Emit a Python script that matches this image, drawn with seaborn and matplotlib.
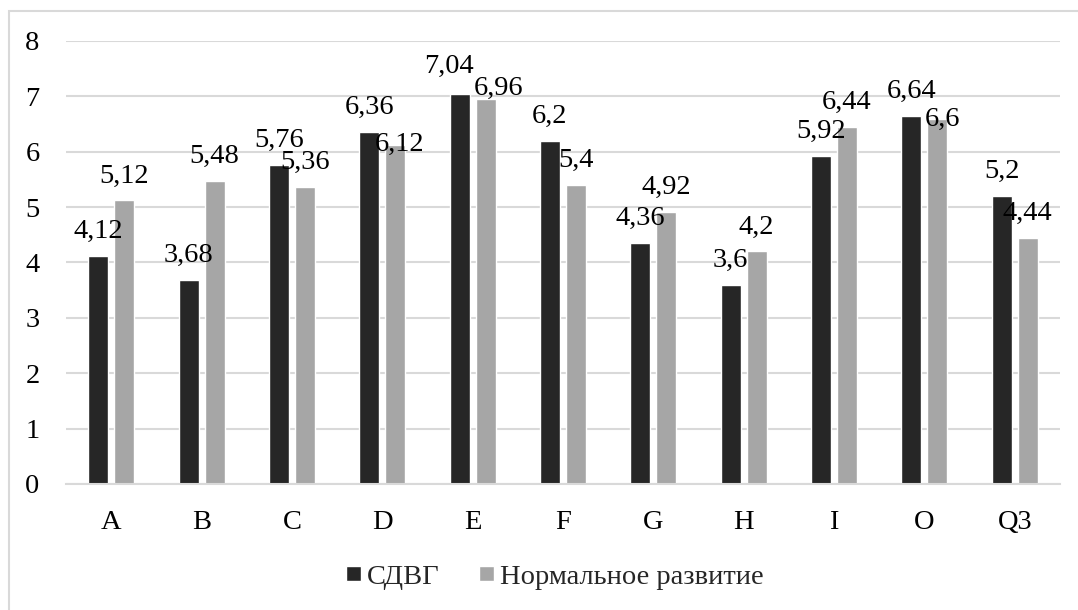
import pandas as pd
import matplotlib
matplotlib.use("Agg")
import matplotlib.pyplot as plt
import seaborn as sns
from matplotlib.patches import Rectangle

# ------------------------------
# Data
# ------------------------------
categories = ["A", "B", "C", "D", "E", "F", "G", "H", "I", "O", "Q3"]
adhd = [4.12, 3.68, 5.76, 6.36, 7.04, 6.2, 4.36, 3.6, 5.92, 6.64, 5.2]
normal = [5.12, 5.48, 5.36, 6.12, 6.96, 5.4, 4.92, 4.2, 6.44, 6.6, 4.44]
series_names = ["СДВГ", "Нормальное развитие"]
colors = ["#262626", "#A6A6A6"]

df = pd.DataFrame({
    "factor": categories * 2,
    "group": [series_names[0]] * len(categories) + [series_names[1]] * len(categories),
    "value": adhd + normal,
})

# label nudges (pixels) where the original chart moved labels to dodge overlaps
label_nudge = {
    (0, "E"): (-11, 3),
    (1, "E"): (13, -14),
    (1, "D"): (4, -24),
    (1, "O"): (5, -25),
}

# ------------------------------
# Figure
# ------------------------------
sns.set_theme(style="white")
plt.rcParams["font.family"] = ["Liberation Serif", "DejaVu Serif"]
FS = 20.5

fig = plt.figure(figsize=(10.78, 6.10), dpi=100)
ax = fig.add_axes([0.0612, 0.2066, 0.9221, 0.7262])

sns.barplot(
    data=df, x="factor", y="value", hue="group",
    palette=colors, width=0.575, gap=0.23,
    ax=ax, legend=True, saturation=1,
)

ax.set_ylim(0, 8)
ax.set_yticks(range(0, 9))
ax.yaxis.grid(True, color="#D9D9D9", linewidth=1.5)
ax.set_axisbelow(True)
for s in ["left", "right", "top"]:
    ax.spines[s].set_visible(False)
ax.spines["bottom"].set_color("#D9D9D9")
ax.spines["bottom"].set_linewidth(1.5)
ax.tick_params(axis="both", length=0, labelsize=FS, colors="black")
ax.tick_params(axis="y", pad=19)
ax.tick_params(axis="x", pad=19)
ax.set_xlabel("")
ax.set_ylabel("")

# value labels with decimal comma
for si, container in enumerate(ax.containers):
    for cat, bar in zip(categories, container):
        h = bar.get_height()
        dx, dy = label_nudge.get((si, cat), (0, 0))
        ax.annotate(
            f"{h:g}".replace(".", ","),
            (bar.get_x() + bar.get_width() / 2, h),
            xytext=(dx, 18 + dy), textcoords="offset pixels",
            ha="center", va="baseline", fontsize=FS, color="black",
        )

handles, labs = ax.get_legend_handles_labels()
ax.legend(
    handles, labs, loc="center", bbox_to_anchor=(0.4914, -0.21),
    ncol=2, frameon=False, fontsize=FS,
    handlelength=0.53, handleheight=0.45, handletextpad=0.2, columnspacing=1.4,
)

# outer chart border
fig.patches.append(Rectangle((9 / 1078, -0.05), 1.1, 1 - 11 / 610 + 0.05,
                             transform=fig.transFigure, fill=False,
                             edgecolor="#D9D9D9", linewidth=1.5))

fig.savefig("out.png", dpi=100)
